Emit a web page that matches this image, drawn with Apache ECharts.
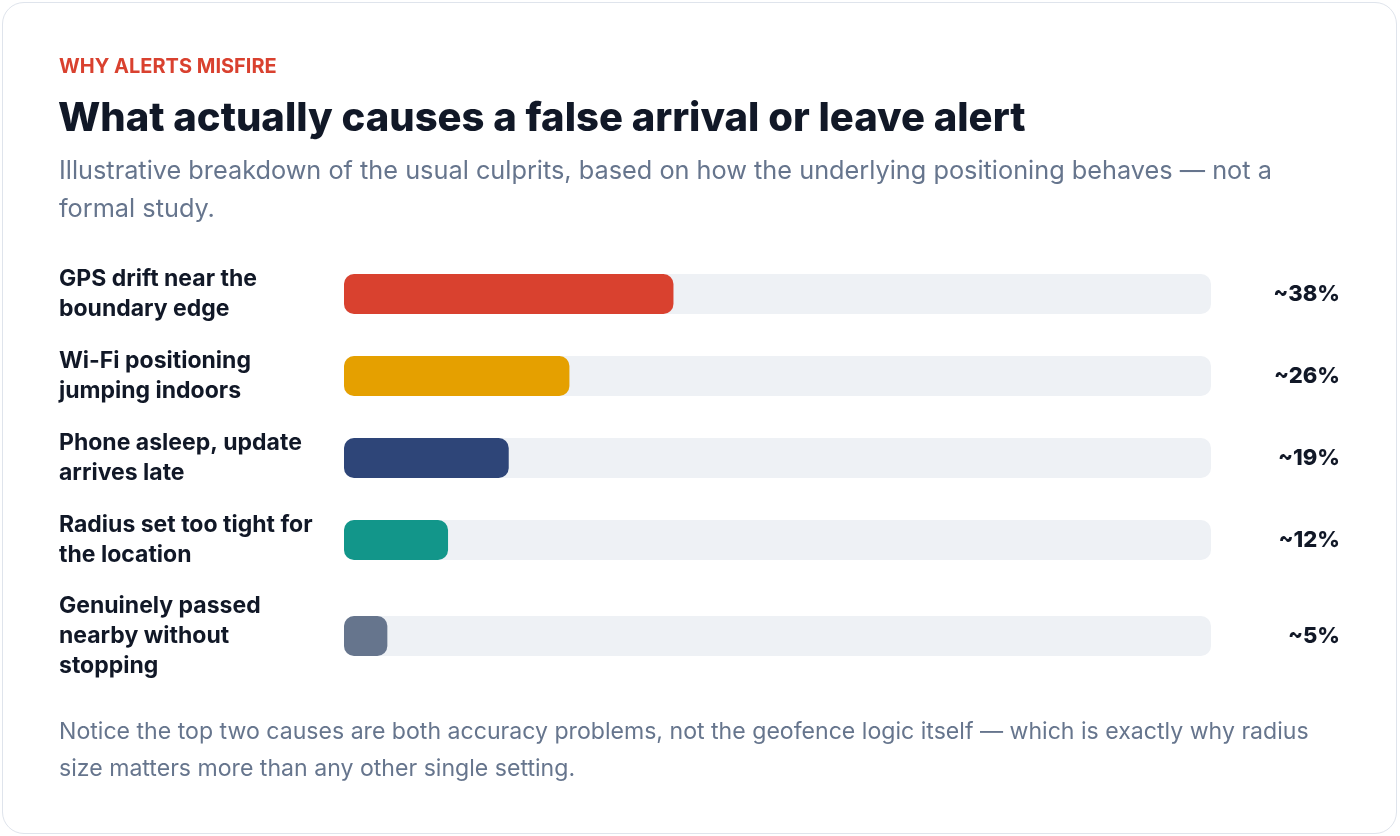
<!DOCTYPE html>
<html><head><meta charset="utf-8">
<script src="https://cdn.jsdelivr.net/npm/echarts@6/dist/echarts.min.js"></script>
<style>
html,body{margin:0;padding:0;background:#fff;}
#card{position:absolute;left:2px;top:2px;width:1395px;height:832px;border:1.5px solid #dfe4ec;border-radius:22px;box-sizing:border-box;}
#c{position:absolute;left:0;top:0;width:1400px;height:836px;}
</style></head><body>
<div id="card"></div><div id="c"></div>
<script>
const categories = ["GPS drift near the\nboundary edge","Wi-Fi positioning\njumping indoors","Phone asleep, update\narrives late","Radius set too tight for\nthe location","Genuinely passed\nnearby without\nstopping"];
const values = [38, 26, 19, 12, 5];
const valueLabels = ["~38%","~26%","~19%","~12%","~5%"];
const colors = ["#d9412f","#e5a000","#2e4578","#12968a","#66758d"];
const centers = [294, 376, 458, 540, 636];

const chart = echarts.init(document.getElementById('c'));
const grids=[],xAxes=[],yAxes=[],series=[];
values.forEach((v,i)=>{
  grids.push({left:344,width:867,top:centers[i]-20,height:40});
  xAxes.push({type:'value',gridIndex:i,min:0,max:100,show:false});
  yAxes.push({type:'category',gridIndex:i,data:[categories[i]],axisLine:{show:false},axisTick:{show:false},
    axisLabel:{align:'left',margin:285,fontFamily:'Inter',fontWeight:700,fontSize:23,color:'#111827',lineHeight:30}});
  yAxes.push({type:'category',gridIndex:i,position:'right',data:[valueLabels[i]],axisLine:{show:false},axisTick:{show:false},
    axisLabel:{align:'right',margin:129,fontFamily:'Inter',fontWeight:800,fontSize:22,color:'#111827'}});
  series.push({type:'bar',xAxisIndex:i,yAxisIndex:2*i,data:[v],barWidth:40,
    itemStyle:{color:colors[i],borderRadius:10},showBackground:true,
    backgroundStyle:{color:'#eef1f5',borderRadius:10},silent:true,animation:false});
});
chart.setOption({
  animation:false,
  title:[
    {text:'WHY ALERTS MISFIRE',left:59,top:57,padding:0,textStyle:{fontFamily:'Inter',fontWeight:700,fontSize:20,color:'#d9412f'}},
    {text:'What actually causes a false arrival or leave alert',left:58,top:99,padding:0,textStyle:{fontFamily:'Inter',fontWeight:800,fontSize:40,color:'#111827'}},
    {text:'Illustrative breakdown of the usual culprits, based on how the underlying positioning behaves — not a\nformal study.',left:59,top:152,padding:0,textStyle:{fontFamily:'Inter',fontWeight:400,fontSize:25.3,color:'#66758d',lineHeight:38}},
    {text:'Notice the top two causes are both accuracy problems, not the geofence logic itself — which is exactly why radius\nsize matters more than any other single setting.',left:59,top:714,padding:0,textStyle:{fontFamily:'Inter',fontWeight:400,fontSize:23.1,color:'#66758d',lineHeight:37}}
  ],
  grid:grids,xAxis:xAxes,yAxis:yAxes,series:series
});
</script></body></html>
